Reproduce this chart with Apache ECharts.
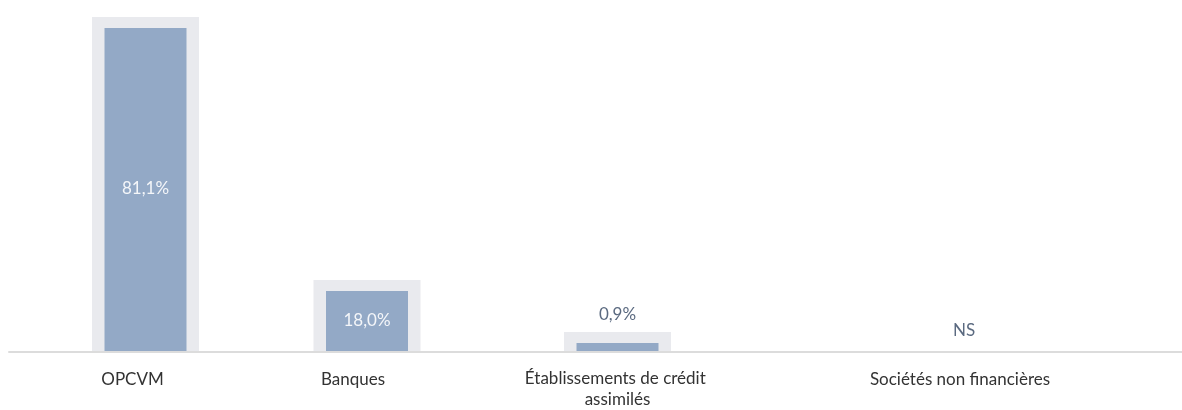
<!DOCTYPE html>
<html>
<head>
<meta charset="utf-8">
<script src="https://cdn.jsdelivr.net/npm/echarts@6/dist/echarts.min.js"></script>
<style>
  html, body { margin: 0; padding: 0; background: #ffffff; }
  #chart { width: 1182px; height: 410px; }
</style>
</head>
<body>
<div id="chart"></div>
<script>
// ---- data ----
const categories = ['OPCVM', 'Banques', 'Établissements de crédit assimilés', 'Sociétés non financières'];
const shares = [81.1, 18.0, 0.9, null];
const valueLabels = ['81,1%', '18,0%', '0,9%', 'NS'];

// ---- layout (not data) ----
const centers = [145.5, 367, 617.5, 964];
const labelShift = [13, 14, 0, 4];
const GRID_W = 240;
const BOTTOM = 58;
const Y_MIN = 3.36, Y_MAX = 87.8;
const BLUE = '#93a9c6', GRAY = '#e9eaee';
const FONT = 'Lato, "Noto Sans", sans-serif';
const FS = 17;

const chart = echarts.init(document.getElementById('chart'), null, { renderer: 'canvas' });

function renderItem(params, api) {
  const cs = params.coordSys;
  const base = cs.y + cs.height;
  const cx = cs.x + cs.width / 2;
  const v = api.value(1);
  const children = [];
  const label = valueLabels[params.seriesIndex];
  if (v !== null && v !== undefined && !isNaN(v)) {
    let top = api.coord([api.value(0), v])[1];
    top = Math.min(top, base - 8);
    const gTop = top - 11;
    children.push({ type: 'rect', shape: { x: cx - 53.5, y: gTop, width: 107, height: base - gTop }, style: { fill: GRAY } });
    children.push({ type: 'rect', shape: { x: cx - 41, y: top, width: 82, height: base - top }, style: { fill: BLUE } });
    if (base - top > 40) {
      children.push({ type: 'text', style: { text: label, x: cx, y: (top + base) / 2 - 1, align: 'center', verticalAlign: 'middle', fill: '#f4f6f9', fontSize: FS, fontFamily: FONT } });
    } else {
      children.push({ type: 'text', style: { text: label, x: cx, y: gTop - 17, align: 'center', verticalAlign: 'middle', fill: '#5b6a80', fontSize: FS, fontFamily: FONT } });
    }
  } else {
    children.push({ type: 'text', style: { text: label, x: cx, y: base - 21, align: 'center', verticalAlign: 'middle', fill: '#5b6a80', fontSize: FS, fontFamily: FONT } });
  }
  return { type: 'group', children: children };
}

const grids = [], xAxes = [], yAxes = [], series = [];
categories.forEach(function (cat, i) {
  grids.push({ left: centers[i] - GRID_W / 2, width: GRID_W, top: 0, bottom: BOTTOM });
  xAxes.push({
    type: 'category', gridIndex: i, data: [cat],
    axisLine: { show: false }, axisTick: { show: false },
    axisLabel: {
      color: '#333333', fontSize: FS, fontFamily: FONT, margin: 17, lineHeight: 21,
      width: 212, overflow: 'break', interval: 0,
      padding: [0, labelShift[i] * 2, 0, 0]
    }
  });
  yAxes.push({ type: 'value', gridIndex: i, min: Y_MIN, max: Y_MAX, show: false });
  series.push({
    type: 'custom', xAxisIndex: i, yAxisIndex: i,
    renderItem: renderItem,
    data: [[0, shares[i] === null ? '-' : shares[i]]],
    clip: false
  });
});

// baseline grid
grids.push({ left: 9, right: 0, top: 0, bottom: BOTTOM });
xAxes.push({ type: 'category', gridIndex: 4, data: [''], z: 10,
  axisLine: { show: true, lineStyle: { color: '#dcdcdc', width: 2 } },
  axisTick: { show: false }, axisLabel: { show: false } });
yAxes.push({ type: 'value', gridIndex: 4, show: false });

chart.setOption({
  animation: false,
  grid: grids,
  xAxis: xAxes,
  yAxis: yAxes,
  series: series
});
</script>
</body>
</html>
